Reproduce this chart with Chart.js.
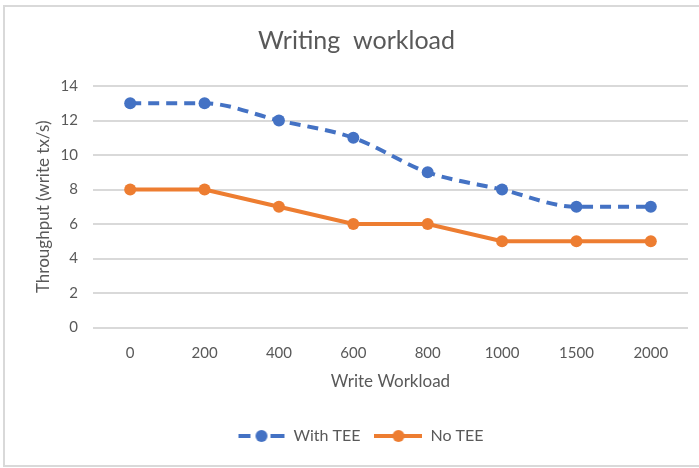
<!DOCTYPE html>
<html>
<head>
<meta charset="utf-8">
<script src="https://cdn.jsdelivr.net/npm/chart.js@4/dist/chart.umd.min.js"></script>
<style>
html,body{margin:0;padding:0;background:#fff;}
#wrap{position:absolute;left:0;top:0;width:699px;height:468px;}
</style>
</head>
<body>
<div id="wrap"><canvas id="c" width="699" height="468"></canvas></div>
<script>
const categories = ["0","200","400","600","800","1000","1500","2000"];
const withTEE = [13,13,12,11,9,8,7,7];
const noTEE = [8,8,7,6,6,5,5,5];
const yTicks = [0,2,4,6,8,10,12,14];

const BLUE = '#4472C4', ORANGE = '#ED7D31';
const FONT = 'Lato, "Open Sans", sans-serif';

function legendIcon(color, dashed){
  const c = document.createElement('canvas');
  c.width = 48; c.height = 14;
  const x = c.getContext('2d');
  x.strokeStyle = color; x.lineWidth = 4; x.lineCap = 'butt';
  x.beginPath();
  if (dashed){ x.moveTo(1,7); x.lineTo(13,7); x.moveTo(33,7); x.lineTo(47,7); }
  else { x.moveTo(0,7); x.lineTo(48,7); }
  x.stroke();
  x.fillStyle = color;
  x.beginPath(); x.arc(24,7,6,0,Math.PI*2); x.fill();
  return c;
}

const borderPlugin = {
  id:'frame',
  afterLayout(chart){
    if (chart.titleBlock){ chart.titleBlock.left += 6; chart.titleBlock.right += 6; }
    if (chart.legend){ chart.legend.left += 10; chart.legend.right += 10; }
  },
  beforeDraw(chart){
    const ctx = chart.ctx;
    ctx.save();
    ctx.fillStyle = '#fff';
    ctx.fillRect(0,0,chart.width,chart.height);
    ctx.strokeStyle = '#d9d9d9';
    ctx.lineWidth = 2;
    ctx.strokeRect(4,6,710,460);
    ctx.restore();
  }
};

new Chart(document.getElementById('c'), {
  type:'line',
  data:{
    labels: categories,
    datasets:[
      {label:'With TEE', data: withTEE, borderColor: BLUE, backgroundColor: BLUE,
       borderWidth:4, borderDash:[11,7], pointRadius:6, pointHoverRadius:6,
       pointBackgroundColor: BLUE, pointBorderWidth:0, cubicInterpolationMode:'monotone'},
      {label:'No TEE', data: noTEE, borderColor: ORANGE, backgroundColor: ORANGE,
       borderWidth:4, pointRadius:6, pointHoverRadius:6,
       pointBackgroundColor: ORANGE, pointBorderWidth:0, tension:0}
    ]
  },
  options:{
    responsive:false,
    animation:false,
    layout:{padding:{left:13,right:11,top:0,bottom:14}},
    elements:{point:{pointStyle:'circle'}},
    plugins:{
      title:{display:true, text:'Writing  workload', color:'#595959',
        font:{family:FONT,size:25,weight:'normal'}, padding:{top:26,bottom:30}},
      legend:{position:'bottom',
        labels:{color:'#595959', font:{family:FONT,size:16}, pointStyleWidth:48, padding:14,
          generateLabels(chart){
            return chart.data.datasets.map((d,i)=>({
              text:d.label, fontColor:'#595959',
              pointStyle: legendIcon(d.borderColor, i===0),
              datasetIndex:i, hidden:false, lineWidth:0
            }));
          },
          usePointStyle:true}},
      tooltip:{enabled:false}
    },
    scales:{
      x:{
        offset:true,
        grid:{display:false},
        border:{display:false},
        ticks:{color:'#595959', font:{family:FONT,size:15}, padding:9},
        title:{display:true,text:'Write Workload',color:'#595959',font:{family:FONT,size:17},padding:{top:0,bottom:22}}
      },
      y:{
        min:0,max:14,
        afterBuildTicks(s){ s.ticks = yTicks.map(v=>({value:v})); },
        afterFit(s){ s.width = 80; },
        grid:{color:'#d9d9d9',lineWidth:2,drawTicks:false},
        border:{display:false},
        ticks:{color:'#595959', font:{family:FONT,size:15}, padding:15},
        title:{display:true,text:'Throughput (write tx/s)',color:'#595959',font:{family:FONT,size:17},padding:{top:20,bottom:4}}
      }
    }
  },
  plugins:[borderPlugin]
});
</script>
</body>
</html>
